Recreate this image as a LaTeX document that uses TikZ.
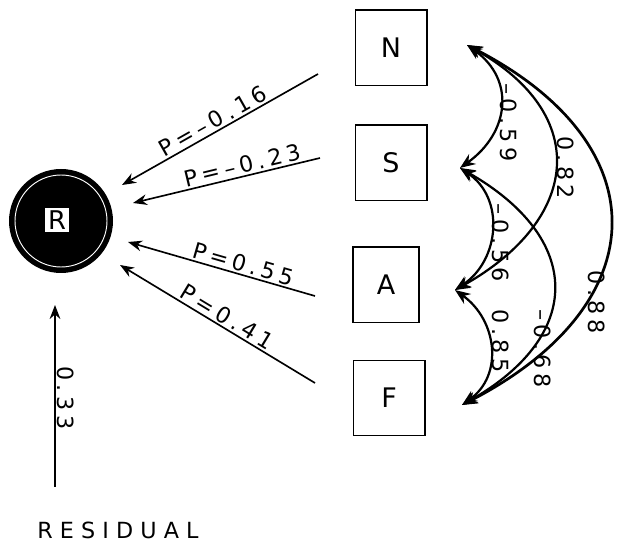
\documentclass[tikz,border=0pt]{standalone}
\usepackage{fontspec}
\newfontfamily\lettering[LetterSpace=20]{DejaVu Sans}
\newfontfamily\widelettering[LetterSpace=32]{DejaVu Sans}
\usetikzlibrary{arrows.meta}
\tikzset{
  varbox/.style={
    rectangle, draw=black, line width=1.7pt, fill=white,
    minimum width=2.13cm, minimum height=2.25cm,
    font=\lettering\fontsize{23}{26}\selectfont
  },
  pathlabel/.style={font=\lettering\fontsize{19}{22}\selectfont, inner sep=1.5pt},
  arclabel/.style={pathlabel, rotate=-90, anchor=south},
  patharrow/.style={-{Stealth[length=4.2mm,width=3.2mm]}, line width=1.4pt},
  corrarc/.style={{Stealth[length=4.6mm,width=3.6mm]}-{Stealth[length=4.6mm,width=3.6mm]}, line width=1.9pt},
}

\begin{document}
\begin{tikzpicture}[x=0.03cm, y=-0.03cm]
  \useasboundingbox (0,0) rectangle (637,544);
  % outcome circle
  \node[circle, fill=black, draw=black, line width=1.7pt, minimum size=3.06cm] (R) at (61,221) {};
  \draw[white, line width=0.8pt] (R.center) circle[radius=46];
  \node[fill=white, inner sep=2.5pt, font=\lettering\fontsize{22}{26}\selectfont] (Rtext) at (57,220) {R};
  % predictors
  \node[varbox] (N) at (391,48) {N};
  \node[varbox] (S) at (391,163) {S};
  \node[varbox, minimum width=1.98cm] (A) at (386,285) {A};
  \node[varbox] (F) at (389,398) {F};
  % path ends
  \coordinate (n0) at (318,74);  \coordinate (n1) at (122,185);
  \coordinate (s0) at (320,158); \coordinate (s1) at (133,203);
  \coordinate (a0) at (315,296); \coordinate (a1) at (128,242);
  \coordinate (f0) at (315,383); \coordinate (f1) at (120,265);
  \draw[patharrow] (n0) -- node[pos=0.51, above, sloped, pathlabel] {P=–0.16} (n1);
  \draw[patharrow] (s0) -- node[pos=0.4, above, sloped, pathlabel] {P=–0.23} (s1);
  \draw[patharrow] (a0) -- node[pos=0.4, above, sloped, pathlabel] {P=0.55} (a1);
  \draw[patharrow] (f0) -- node[pos=0.48, above, sloped, pathlabel] {P=0.41} (f1);
  % correlations
  \coordinate (tN) at (467,45);
  \coordinate (tS) at (460,168);
  \coordinate (tA) at (455,290);
  \coordinate (tF) at (462,405);
  \draw[corrarc] (tN) .. controls +(49,35) and +(49,-35) .. node[pos=0.62, arclabel] {–0.59} (tS);
  \draw[corrarc] (tN) .. controls +(125,70) and +(125,-70) .. node[pos=0.5, arclabel] {0.82} (tA);
  \draw[corrarc, line width=2.3pt] (tN) .. controls +(194,100) and +(194,-100) .. node[pos=0.7, arclabel] {0.88} (tF);
  \draw[corrarc] (tS) .. controls +(45,30) and +(45,-30) .. node[pos=0.6, arclabel] {–0.56} (tA);
  \draw[corrarc] (tS) .. controls +(123,70) and +(123,-70) .. node[pos=0.75, arclabel] {–0.68} (tF);
  \draw[corrarc] (tA) .. controls +(42,30) and +(42,-30) .. node[pos=0.45, arclabel] {0.85} (tF);
  % residual
  \node[font=\widelettering\fontsize{19}{22}\selectfont, inner sep=1.5pt] (res) at (118,530) {RESIDUAL};
  \coordinate (r0) at (55,487);
  \coordinate (r1) at (55,305);
  \draw[patharrow] (r0) -- node[pos=0.49, arclabel] {0.33} (r1);
\end{tikzpicture}
\end{document}
